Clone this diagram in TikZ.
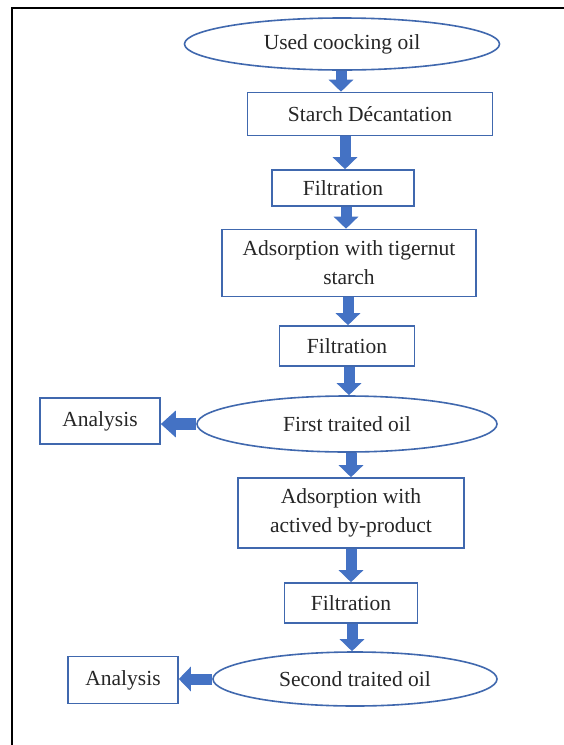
\documentclass[tikz,border=0pt]{standalone}
\usepackage{fontspec}
\setmainfont{Liberation Serif}
\usetikzlibrary{shapes.geometric,arrows.meta}
\definecolor{boxblue}{HTML}{4068AE}
\definecolor{arrblue}{HTML}{4472C4}
\tikzset{
  procbox/.style={draw=boxblue, line width=1.6pt, rectangle, inner sep=0pt, align=center, font=\fontsize{21.5}{29}\selectfont, fill=white, text=black!85},
  ovalbox/.style={draw=boxblue, line width=1.6pt, ellipse, inner sep=0pt, align=center, font=\fontsize{21.5}{29}\selectfont, fill=white, text=black!85},
  flow/.style={draw=arrblue, line width=11pt, -{Triangle[width=24pt,length=12pt]}, arrblue},
  sideflow/.style={draw=arrblue, line width=12pt, -{Triangle[width=26pt,length=15pt]}, arrblue},
}
\begin{document}
\begin{tikzpicture}[x=1pt,y=-1pt]
\useasboundingbox (0,0) rectangle (563,745);
\fill[white] (0,0) rectangle (563,745);
\draw[line width=2.5pt] (12,746) -- (12,8) -- (564,8);

\node[ovalbox, minimum width=315pt, minimum height=52pt] (e1) at (342,44) {Used coocking oil};
\node[procbox, minimum width=245pt, minimum height=43pt] (b1) at (370,114) {Starch Décantation};
\node[procbox, minimum width=142pt, minimum height=36pt] (b2) at (343,188) {Filtration};
\node[procbox, minimum width=254pt, minimum height=67pt] (b3) at (349,263) {Adsorption with tigernut\\starch};
\node[procbox, minimum width=135pt, minimum height=40pt] (b4) at (347,346) {Filtration};
\node[ovalbox, minimum width=300pt, minimum height=56pt] (e2) at (347,424) {First traited oil};
\node[procbox, minimum width=120pt, minimum height=46pt] (a1) at (100,421) {Analysis};
\node[procbox, minimum width=226pt, minimum height=70pt] (b5) at (351,513) {Adsorption with\\actived by-product};
\node[procbox, minimum width=133pt, minimum height=40pt] (b6) at (351,603) {Filtration};
\node[ovalbox, minimum width=284pt, minimum height=54pt] (e3) at (355,679) {Second traited oil};
\node[procbox, minimum width=110pt, minimum height=47pt] (a2) at (123,680) {Analysis};

\coordinate (x1) at (341,0);
\coordinate (x2) at (345,0);
\coordinate (x3) at (346,0);
\coordinate (x4) at (348,0);
\coordinate (x5) at (349,0);
\coordinate (x6) at (351,0);
\coordinate (x7) at (351,0);
\coordinate (x8) at (352,0);

\draw[flow] (e1.south -| x1) -- (b1.north -| x1);
\draw[flow] (b1.south -| x2) -- (b2.north -| x2);
\draw[flow] (b2.south -| x3) -- (b3.north -| x3);
\draw[flow] (b3.south -| x4) -- (b4.north -| x4);
\draw[flow] (b4.south -| x5) -- (e2.north -| x5);
\draw[flow] (e2.south -| x6) -- (b5.north -| x6);
\draw[flow] (b5.south -| x7) -- (b6.north -| x7);
\draw[flow] (b6.south -| x8) -- (e3.north -| x8);
\draw[sideflow] (e2.west) -- (a1.east |- e2.west);
\draw[flow] (e3.west) -- (a2.east |- e3.west);
\end{tikzpicture}
\end{document}
